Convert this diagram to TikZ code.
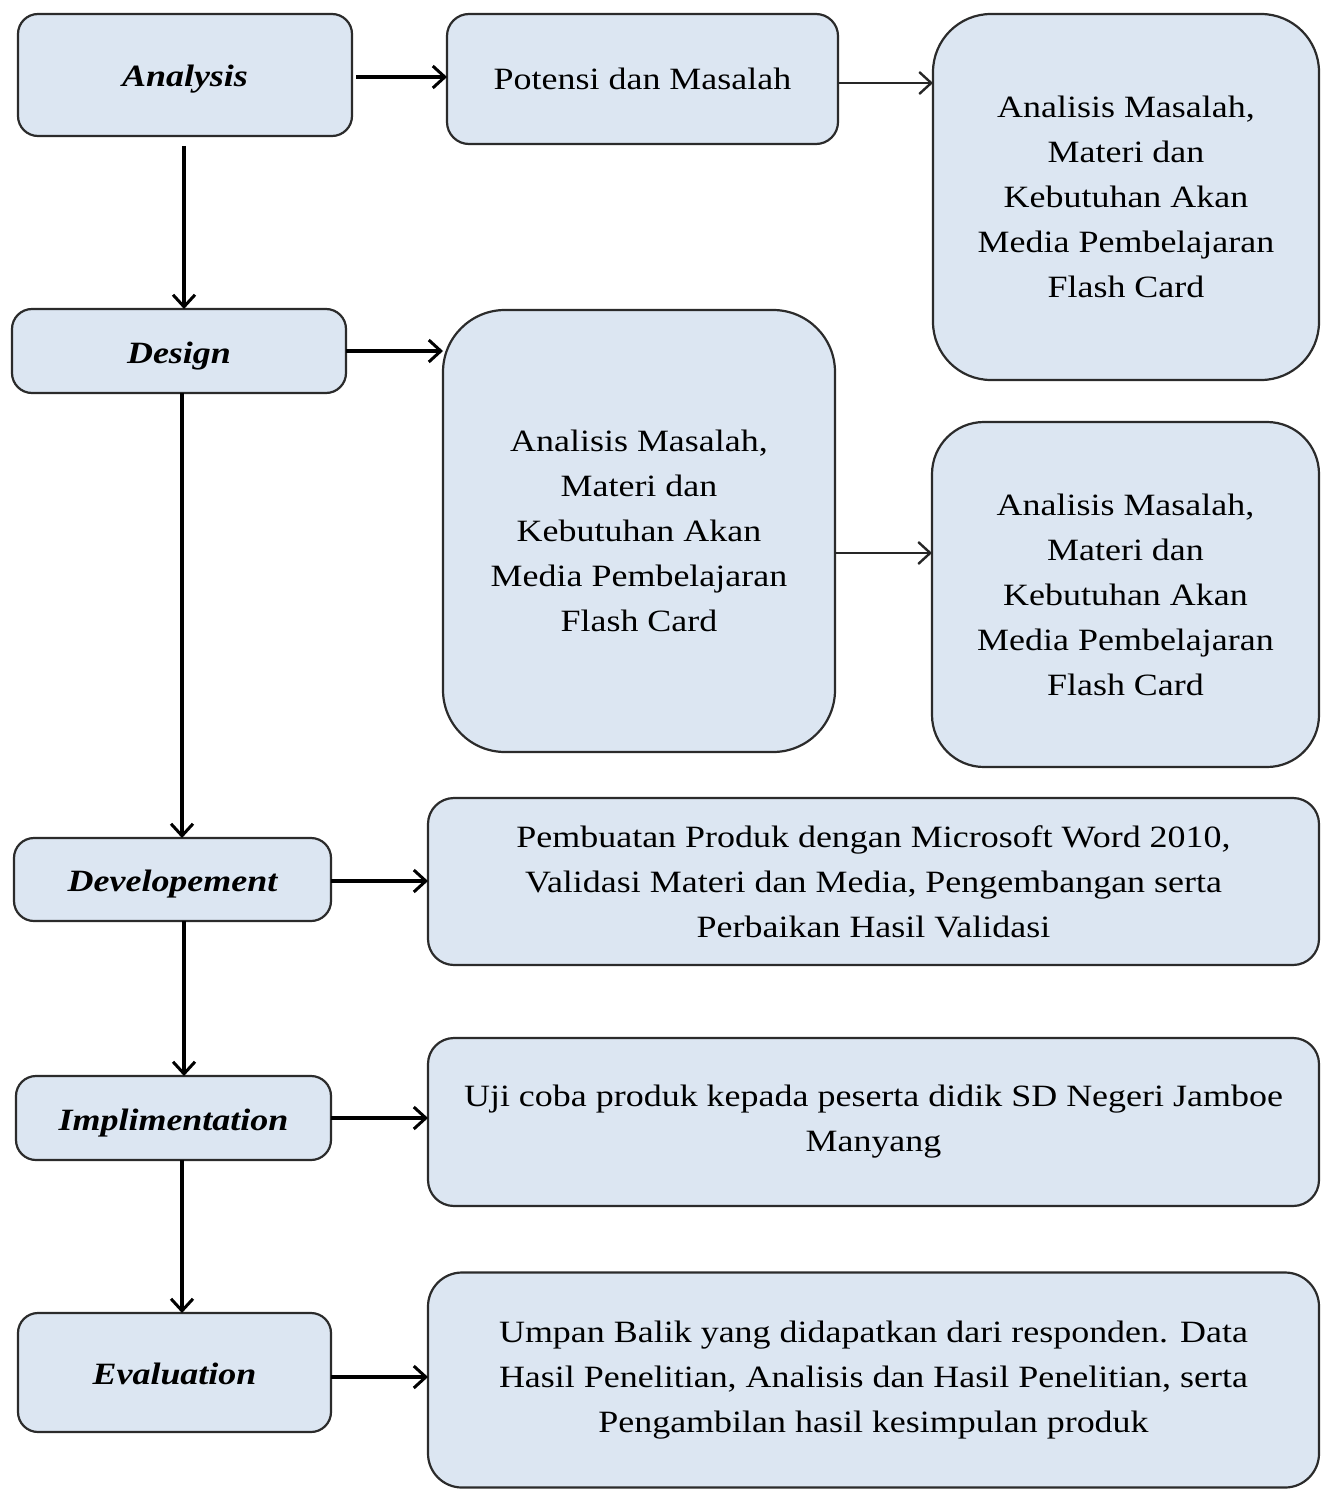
\documentclass[tikz,border=0pt]{standalone}
\usepackage{fontspec}
\setmainfont[FakeStretch=1.16]{Liberation Serif}
\usetikzlibrary{arrows.meta}
\definecolor{boxfill}{HTML}{DCE6F2}
\definecolor{boxline}{HTML}{2B2B2B}
\tikzset{
  base/.style={draw=boxline, line width=2.2pt, fill=boxfill, align=center, inner sep=0pt,
     font=\fontsize{31}{45}\selectfont},
  stage/.style={base, rounded corners=20pt, text height=24pt, text depth=0pt,
     font=\fontsize{31}{45}\selectfont\bfseries\itshape},
  info/.style={base, rounded corners=#1},
  info/.default=22pt,
  arr/.style={draw=black, line width=3.4pt, -{Straight Barb[length=12pt,width=22pt,line width=3pt]}},
  arrthin/.style={draw=black!85, line width=2.4pt, -{Straight Barb[length=12pt,width=22pt,line width=2.4pt]}},
}
\begin{document}
\begin{tikzpicture}[x=1pt,y=-1pt]
\useasboundingbox (0,0) rectangle (1321,1490);
% left column
\node[stage, minimum width=334pt, minimum height=122pt] (an) at (185,75) {Analysis};
\node[stage, minimum width=334pt, minimum height=84pt] (de) at (179,351) {Design};
\node[stage, minimum width=317pt, minimum height=83pt] (dv) at (172.5,879.5) {Developement};
\node[stage, minimum width=315pt, minimum height=84pt] (im) at (173.5,1118) {Implimentation};
\node[stage, minimum width=313pt, minimum height=119pt] (ev) at (174.5,1372.5) {Evaluation};
% right boxes
\node[info, minimum width=391pt, minimum height=130pt] (po) at (642.5,79) {Potensi dan Masalah};
\node[info=58pt, minimum width=386pt, minimum height=366pt] (r1) at (1126,197)
  {Analisis Masalah,\\Materi dan\\Kebutuhan Akan\\Media Pembelajaran\\Flash Card};
\node[info=62pt, minimum width=392pt, minimum height=442pt] (m1) at (639,531)
  {Analisis Masalah,\\Materi dan\\Kebutuhan Akan\\Media Pembelajaran\\Flash Card};
\node[info=52pt, minimum width=387pt, minimum height=345pt] (r2) at (1125.5,594.5)
  {Analisis Masalah,\\Materi dan\\Kebutuhan Akan\\Media Pembelajaran\\Flash Card};
\node[info=26pt, minimum width=891pt, minimum height=167pt] (dvb) at (873.5,881.5)
  {Pembuatan Produk dengan Microsoft Word 2010,\\Validasi Materi dan Media, Pengembangan serta\\Perbaikan Hasil Validasi};
\node[info=26pt, minimum width=891pt, minimum height=168pt] (imb) at (873.5,1122)
  {Uji coba produk kepada peserta didik SD Negeri Jamboe\\Manyang};
\node[info=34pt, minimum width=891pt, minimum height=215pt] (evb) at (873.5,1380)
  {Umpan Balik yang didapatkan dari responden. Data\\Hasil Penelitian, Analisis dan Hasil Penelitian, serta\\Pengambilan hasil kesimpulan produk};
% coordinates for connector ends
\coordinate (a1) at (356,77);
\coordinate (a2) at (447,77);
\coordinate (p1) at (838,83);
\coordinate (p2) at (933,83);
\coordinate (d1) at (184,146);
\coordinate (d2) at (184,309);
\coordinate (e1) at (346,351);
\coordinate (e2) at (443,351);
\coordinate (f1) at (182,393);
\coordinate (f2) at (182,838);
\coordinate (g1) at (835,553);
\coordinate (g2) at (932,553);
\coordinate (h1) at (331,881);
\coordinate (h2) at (428,881);
\coordinate (i1) at (184,921);
\coordinate (i2) at (184,1076);
\coordinate (j1) at (331,1118);
\coordinate (j2) at (428,1118);
\coordinate (k1) at (182,1160);
\coordinate (k2) at (182,1313);
\coordinate (l1) at (331,1377);
\coordinate (l2) at (428,1377);
% connectors
\draw[arr] (a1) -- (a2);
\draw[arrthin] (p1) -- (p2);
\draw[arr] (d1) -- (d2);
\draw[arr] (e1) -- (e2);
\draw[arr] (f1) -- (f2);
\draw[arrthin] (g1) -- (g2);
\draw[arr] (h1) -- (h2);
\draw[arr] (i1) -- (i2);
\draw[arr] (j1) -- (j2);
\draw[arr] (k1) -- (k2);
\draw[arr] (l1) -- (l2);
\end{tikzpicture}
\end{document}
